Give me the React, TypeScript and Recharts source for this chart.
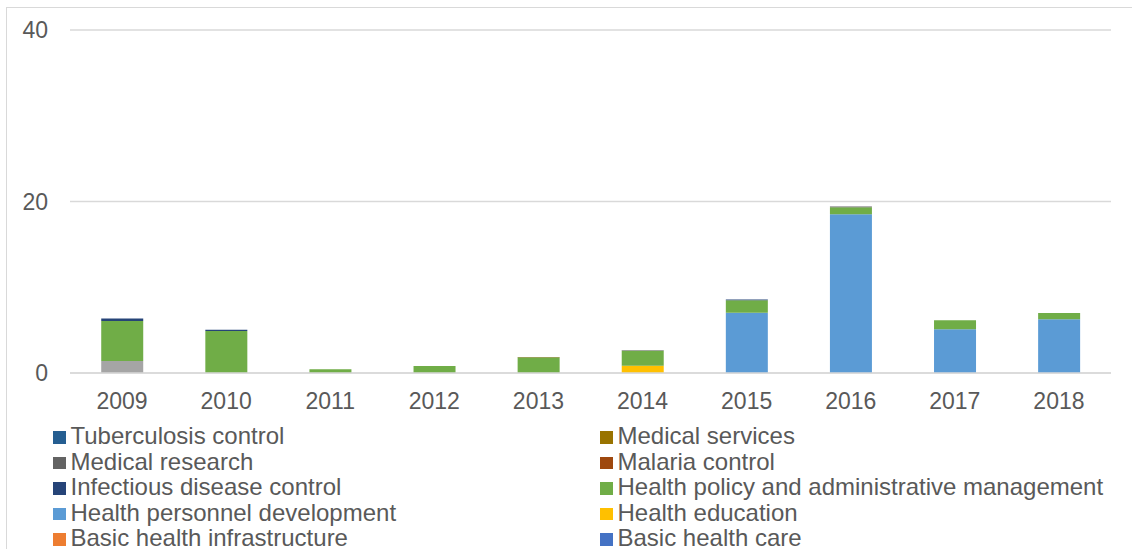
import { Bar, BarChart, CartesianGrid, XAxis, YAxis } from "recharts"

// years on the x axis
const years = ["2009", "2010", "2011", "2012", "2013", "2014", "2015", "2016", "2017", "2018"]

// series values (US$ m), one per year
const otherHealth = [1.4, 0, 0, 0, 0, 0, 0, 0, 0, 0]
const basicHealthCare = [0, 0, 0, 0, 0, 0, 0, 0, 0, 0]
const basicHealthInfrastructure = [0, 0, 0, 0, 0, 0, 0, 0, 0, 0]
const healthEducation = [0, 0, 0, 0, 0, 0.85, 0, 0, 0, 0]
const healthPersonnel = [0, 0, 0, 0, 0, 0, 7.03, 18.5, 5.1, 6.26]
const healthPolicy = [4.67, 4.9, 0.43, 0.82, 1.83, 1.75, 1.45, 0.82, 1.05, 0.74]
const infectiousDisease = [0.3, 0.15, 0, 0, 0, 0, 0.1, 0, 0, 0]
const malariaControl = [0, 0, 0, 0, 0.03, 0, 0, 0, 0, 0]
const medicalResearch = [0, 0, 0, 0, 0, 0.05, 0, 0.1, 0, 0]
const medicalServices = [0, 0, 0, 0, 0, 0, 0, 0, 0, 0]
const tuberculosisControl = [0, 0, 0, 0, 0, 0, 0, 0, 0, 0]

const yTicks = [0, 20, 40]

// stack order, bottom to top
const series = [
  { key: "other", name: "Other", color: "#A5A5A5", values: otherHealth },
  { key: "basicCare", name: "Basic health care", color: "#4472C4", values: basicHealthCare },
  { key: "basicInfra", name: "Basic health infrastructure", color: "#ED7D31", values: basicHealthInfrastructure },
  { key: "education", name: "Health education", color: "#FFC000", values: healthEducation },
  { key: "personnel", name: "Health personnel development", color: "#5B9BD5", values: healthPersonnel },
  { key: "policy", name: "Health policy and administrative management", color: "#70AD47", values: healthPolicy },
  { key: "infectious", name: "Infectious disease control", color: "#264478", values: infectiousDisease },
  { key: "malaria", name: "Malaria control", color: "#9E480E", values: malariaControl },
  { key: "research", name: "Medical research", color: "#636363", values: medicalResearch },
  { key: "services", name: "Medical services", color: "#997300", values: medicalServices },
  { key: "tb", name: "Tuberculosis control", color: "#255E91", values: tuberculosisControl },
]

// legend reads in two columns, reverse of the stack
const legendOrder = ["tb", "services", "research", "malaria", "infectious", "policy", "personnel", "education", "basicInfra", "basicCare"]

const data = years.map((year, i) => {
  const row: Record<string, string | number> = { year }
  series.forEach((s) => {
    row[s.key] = s.values[i]
  })
  return row
})

const font = "'Liberation Sans', Arial, sans-serif"
const textColor = "#595959"
const lineColor = "#d9d9d9"

function Legend() {
  const items = legendOrder.map((k) => series.find((s) => s.key === k)!)
  return (
    <div
      style={{
        position: "absolute",
        left: 53,
        top: 423,
        display: "grid",
        gridTemplateColumns: "547px 520px",
        fontFamily: font,
        fontSize: 24,
        lineHeight: "25.6px",
        color: textColor,
        whiteSpace: "nowrap",
      }}
    >
      {items.map((s) => (
        <div key={s.key} style={{ display: "flex", alignItems: "center", height: 25.6 }}>
          <span
            style={{
              display: "inline-block",
              width: 12.5,
              height: 12.5,
              background: s.color,
              marginRight: 5,
              marginTop: 3,
            }}
          />
          <span>{s.name}</span>
        </div>
      ))}
    </div>
  )
}

export default function App() {
  return (
    <div style={{ position: "absolute", left: 0, top: 0, width: 1132, height: 549, overflow: "hidden", background: "#fff" }}>
      <div
        style={{
          position: "absolute",
          left: 6,
          top: 7,
          width: 1140,
          height: 560,
          borderTop: `1.5px solid ${lineColor}`,
          borderLeft: `1.5px solid ${lineColor}`,
        }}
      />
      <div style={{ position: "absolute", left: 0, top: 0 }}>
        <BarChart
          width={1132}
          height={549}
          data={data}
          margin={{ top: 30, right: 21, bottom: 146, left: 0 }}
          barCategoryGap="30%"
        >
          <CartesianGrid vertical={false} stroke={lineColor} strokeWidth={1.5} />
          <XAxis
            dataKey="year"
            axisLine={{ stroke: lineColor, strokeWidth: 1.5 }}
            tickLine={false}
            tickSize={0}
            tickMargin={20}
            height={30}
            tick={{ fill: textColor, fontSize: 23, fontFamily: font }}
          />
          <YAxis
            domain={[0, 40]}
            ticks={yTicks}
            axisLine={false}
            tickLine={false}
            tickSize={0}
            tickMargin={22}
            width={70}
            tick={{ fill: textColor, fontSize: 23, fontFamily: font }}
          />
          {series.map((s) => (
            <Bar
              key={s.key}
              dataKey={s.key}
              name={s.name}
              stackId="a"
              fill={s.color}
              isAnimationActive={false}
            />
          ))}
        </BarChart>
      </div>
      <Legend />
    </div>
  )
}
